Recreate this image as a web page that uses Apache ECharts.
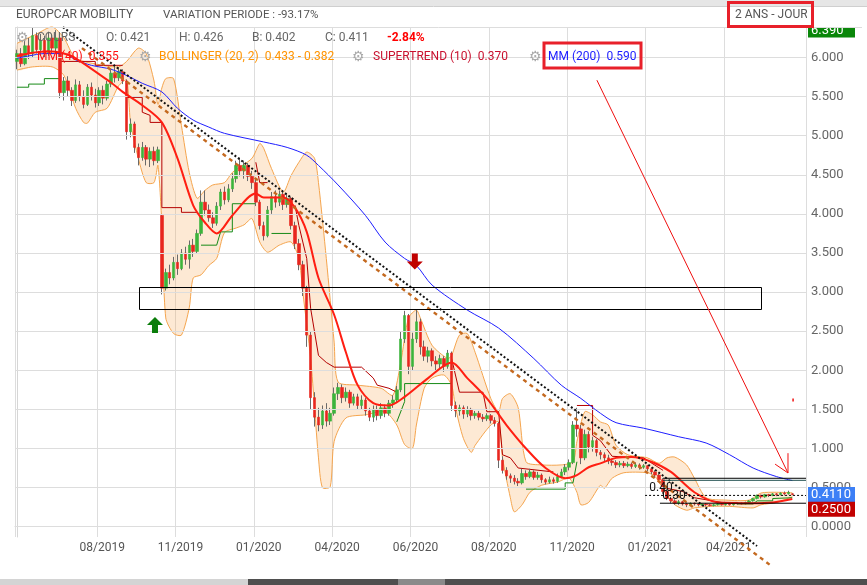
<!DOCTYPE html>
<html><head><meta charset="utf-8">
<script src="https://cdn.jsdelivr.net/npm/echarts@6/dist/echarts.min.js"></script>
<style>html,body{margin:0;padding:0;background:#fff}#c{width:867px;height:585px}</style>
</head><body><div id="c"></div>
<script>
// ---------- data ----------
const slotCount = 202;
const tickSlots = [21,41,61,81,101,121,141,161,181];
const tickLabels = ['08/2019','11/2019','01/2020','04/2020','06/2020','08/2020','11/2020','01/2021','04/2021'];
const priceTicks = [0,0.5,1,1.5,2,2.5,3,3.5,4,4.5,5,5.5,6];
// [open, close, low, high]
const candles = [
[5.95,6.05,5.85,6.10],[6.05,5.92,5.88,6.12],[5.92,6.15,5.90,6.22],[6.15,6.05,5.98,6.25],[6.05,6.28,6.00,6.39],[6.28,6.10,6.05,6.32],[6.10,6.22,6.02,6.30],[6.22,6.05,6.00,6.28],[6.05,6.25,6.02,6.33],[6.25,6.12,6.05,6.30],[6.12,6.25,6.08,6.35],
[6.25,5.55,5.48,6.30],
[5.55,5.70,5.45,5.75],[5.70,5.58,5.50,5.76],[5.58,5.45,5.38,5.62],[5.45,5.65,5.42,5.72],[5.65,5.50,5.44,5.70],[5.50,5.40,5.35,5.58],[5.40,5.62,5.38,5.66],[5.62,5.52,5.45,5.68],[5.52,5.42,5.36,5.60],[5.42,5.58,5.38,5.62],
[5.58,5.48,5.40,5.64],[5.48,5.66,5.45,5.70],[5.66,5.80,5.62,5.86],[5.80,5.74,5.68,5.88],[5.74,5.82,5.70,5.87],[5.82,5.70,5.66,5.85],
[5.70,5.05,4.95,5.72],[5.05,5.15,4.98,5.22],[5.15,4.85,4.78,5.18],[4.85,4.72,4.62,4.90],[4.72,4.85,4.68,4.92],[4.85,4.70,4.62,4.88],[4.70,4.80,4.60,4.85],[4.80,4.68,4.62,4.86],[4.68,4.82,4.65,4.86],[3.98,3.05,2.97,4.00],
[3.05,3.25,3.02,3.30],[3.25,3.18,3.10,3.35],[3.18,3.38,3.15,3.45],[3.38,3.30,3.22,3.48],[3.30,3.50,3.28,3.55],[3.50,3.42,3.35,3.58],[3.42,3.60,3.30,3.66],[3.60,3.52,3.45,3.68],[3.52,3.75,3.50,3.80],[3.75,4.15,3.72,4.30],
[4.15,4.05,3.98,4.30],[4.05,3.95,3.90,4.12],[3.95,3.88,3.82,4.02],[3.88,4.10,3.85,4.15],[4.10,4.28,4.05,4.32],[4.28,4.18,4.12,4.35],[4.18,4.32,4.15,4.38],[4.32,4.45,4.28,4.52],[4.45,4.62,4.40,4.68],[4.62,4.55,4.48,4.72],
[4.55,4.62,4.45,4.68],[4.62,4.48,4.42,4.65],[4.48,4.40,4.32,4.55],[4.40,4.15,4.10,4.45],[4.15,3.85,3.80,4.18],[3.85,3.72,3.66,3.90],[3.72,4.05,3.70,4.10],[4.05,4.22,4.00,4.28],[4.22,4.15,4.08,4.30],[4.15,4.25,4.10,4.30],
[4.25,4.12,4.05,4.28],[4.12,4.20,4.08,4.25],[4.20,3.85,3.80,4.22],[3.85,3.62,3.55,3.90],[3.62,3.35,3.28,3.68],[3.35,3.05,2.95,3.40],[3.05,2.45,2.30,3.08],[2.45,1.65,1.50,2.50],[1.65,1.40,1.28,1.72],[1.40,1.30,1.22,1.52],
[1.30,1.48,1.25,1.55],[1.48,1.35,1.28,1.58],[1.35,1.45,1.30,1.52],[1.45,1.70,1.42,1.78],[1.70,1.78,1.62,1.84],[1.78,1.65,1.58,1.82],[1.65,1.72,1.60,1.78],[1.72,1.58,1.52,1.75],[1.58,1.66,1.55,1.70],[1.66,1.55,1.50,1.70],
[1.55,1.62,1.50,1.68],[1.62,1.48,1.42,1.65],[1.48,1.40,1.35,1.52],[1.40,1.50,1.34,1.55],[1.50,1.42,1.36,1.55],[1.42,1.52,1.38,1.58],[1.52,1.45,1.40,1.56],[1.45,1.58,1.42,1.62],[1.58,1.62,1.52,1.68],[1.62,1.75,1.58,1.80],
[1.75,2.40,1.72,2.50],[2.40,2.70,2.35,2.76],[2.70,2.05,1.95,2.72],[2.05,2.40,2.00,2.48],[2.40,2.62,2.35,2.77],[2.62,2.30,2.20,2.66],[2.30,2.18,2.12,2.38],[2.18,2.25,2.10,2.30],[2.25,2.12,2.05,2.28],[2.12,2.08,2.00,2.18],
[2.08,2.15,2.02,2.20],[2.15,2.05,1.98,2.18],[2.05,2.22,2.02,2.26],[2.22,1.55,1.48,2.24],[1.55,1.48,1.40,1.60],[1.48,1.52,1.42,1.56],[1.52,1.44,1.38,1.55],[1.44,1.50,1.40,1.54],[1.50,1.42,1.36,1.52],[1.42,1.45,1.38,1.48],
[1.45,1.40,1.36,1.48],[1.40,1.38,1.34,1.44],[1.38,1.42,1.35,1.45],[1.42,1.36,1.32,1.44],[1.36,1.32,1.28,1.40],[1.32,0.85,0.75,1.34],[0.85,0.72,0.68,0.90],[0.72,0.65,0.60,0.76],[0.65,0.62,0.56,0.68],[0.62,0.58,0.54,0.66],
[0.58,0.56,0.52,0.62],[0.56,0.68,0.54,0.74],[0.68,0.64,0.60,0.72],[0.64,0.70,0.62,0.74],[0.70,0.63,0.60,0.72],[0.63,0.66,0.60,0.70],[0.66,0.60,0.56,0.68],[0.60,0.57,0.54,0.62],[0.57,0.60,0.55,0.64],[0.60,0.58,0.55,0.63],
[0.58,0.64,0.56,0.68],[0.64,0.70,0.62,0.74],[0.70,0.76,0.66,0.80],[0.76,0.82,0.72,0.86],[0.82,1.30,0.80,1.35],[1.30,1.25,1.15,1.52],[1.25,0.88,0.80,1.30],[0.88,1.18,0.85,1.24],[1.18,1.02,0.95,1.22],[1.02,1.10,0.96,1.15],
[1.10,0.95,0.90,1.12],[0.95,0.92,0.86,0.98],[0.92,0.88,0.84,0.95],[0.88,0.84,0.80,0.92],[0.84,0.82,0.78,0.87],[0.82,0.79,0.75,0.85],[0.79,0.81,0.76,0.84],[0.81,0.78,0.75,0.84],[0.78,0.80,0.76,0.83],[0.80,0.77,0.74,0.82],
[0.77,0.79,0.75,0.82],[0.79,0.76,0.73,0.81],[0.76,0.78,0.74,0.80],[0.78,0.74,0.71,0.79],[0.74,0.70,0.67,0.76],[0.70,0.66,0.62,0.72],[0.66,0.60,0.58,0.68],[0.60,0.45,0.42,0.62],[0.45,0.36,0.34,0.48],[0.36,0.33,0.30,0.38],
[0.33,0.30,0.28,0.35],[0.30,0.32,0.28,0.34],[0.32,0.29,0.27,0.33],[0.29,0.28,0.25,0.31],[0.28,0.30,0.27,0.31],[0.30,0.29,0.27,0.31],[0.29,0.28,0.26,0.30],[0.28,0.29,0.27,0.30],[0.29,0.28,0.26,0.30],[0.28,0.27,0.26,0.29],
[0.27,0.28,0.26,0.29],[0.28,0.29,0.27,0.30],[0.29,0.28,0.27,0.30],[0.28,0.29,0.27,0.30],[0.29,0.28,0.27,0.30],[0.28,0.29,0.27,0.30],[0.29,0.30,0.28,0.31],[0.30,0.29,0.28,0.31],[0.29,0.31,0.28,0.32],[0.31,0.33,0.30,0.34],
[0.33,0.36,0.32,0.37],[0.36,0.40,0.35,0.41],[0.40,0.38,0.36,0.41],[0.38,0.41,0.37,0.42],[0.41,0.40,0.38,0.42],[0.40,0.42,0.39,0.43],[0.42,0.41,0.39,0.43],[0.41,0.43,0.40,0.44],[0.43,0.42,0.40,0.45],[0.42,0.44,0.41,0.46],[0.421,0.411,0.402,0.426]
];
const ma200 = [[0,5.99],[3,6.02],[7,6.05],[12,6.05],[15,5.97],[19,5.9],[24,5.85],[28,5.77],[32,5.67],[37,5.56],[41,5.35],[45,5.2],[49,5.11],[53,5.03],[63,4.92],[69,4.85],[74,4.75],[77,4.62],[82,4.37],[89,3.98],[94,3.64],[99,3.43],[102,3.34],[106,3.09],[115,2.77],[123,2.54],[132,2.15],[139,1.81],[144,1.64],[149,1.45],[153,1.33],[160,1.26],[169,1.15],[176,1.07],[182,0.92],[188,0.75],[194,0.64],[198,0.59]];
const ma40 = [[0,6.02],[4,6.06],[8,6.08],[12,6.05],[15,5.99],[24,5.68],[27,5.56],[32,5.39],[37,5.17],[41,4.71],[45,4.11],[48,3.89],[51,3.75],[55,3.98],[61,4.26],[63,4.21],[68,4.21],[71,4.08],[74,3.77],[77,3.18],[81,2.71],[84,2.23],[87,1.81],[91,1.58],[95,1.55],[99,1.66],[105,1.9],[111,2.1],[115,1.9],[120,1.64],[125,1.3],[130,1.0],[135,0.75],[140,0.62],[143,0.66],[146,0.76],[149,0.81],[153,0.88],[157,0.89],[162,0.83],[167,0.7],[173,0.44],[179,0.31],[188,0.30],[193,0.31],[198,0.355]];
const bollUpper = [[0,6.18],[5,6.30],[9,6.39],[12,6.25],[15,5.99],[22,5.90],[26,5.88],[28,5.95],[31,6.12],[33,6.05],[35,5.70],[36,5.40],[37,5.61],[38,5.73],[40,5.73],[42,5.13],[44,4.53],[46,4.20],[48,4.30],[50,4.37],[53,4.40],[55,4.53],[60,4.71],[62,4.90],[63,4.84],[65,4.58],[68,4.28],[70,4.49],[72,4.66],[74,4.79],[76,4.71],[77,4.40],[79,3.43],[81,2.36],[82,1.85],[87,1.81],[93,1.77],[96,1.68],[98,2.10],[100,2.67],[102,2.77],[103,2.67],[106,2.32],[110,2.15],[111,2.19],[113,2.45],[115,2.47],[117,2.23],[121,1.64],[123,1.47],[124,1.64],[126,1.70],[128,1.52],[130,0.83],[134,0.79],[139,0.79],[142,0.83],[143,1.09],[145,1.47],[147,1.43],[149,1.34],[151,1.30],[153,1.04],[156,0.92],[161,0.88],[164,0.81],[166,0.88],[168,0.89],[171,0.79],[173,0.62],[176,0.37],[181,0.34],[187,0.34],[190,0.43],[194,0.44],[198,0.433]];
const bollLower = [[0,5.84],[4,5.88],[9,5.88],[12,5.77],[15,5.35],[17,5.17],[18,5.16],[20,5.30],[23,5.35],[26,5.64],[28,5.71],[29,5.17],[31,4.71],[33,4.40],[35,4.40],[36,4.62],[37,3.86],[38,2.67],[40,2.47],[42,2.45],[44,2.80],[45,3.18],[47,3.22],[49,3.34],[51,3.43],[53,3.76],[56,3.82],[58,3.86],[60,3.94],[62,3.64],[64,3.51],[67,3.60],[70,3.64],[72,3.43],[73,3.00],[75,2.15],[76,1.52],[77,0.88],[78,0.50],[80,0.51],[81,1.09],[84,1.39],[89,1.43],[94,1.47],[97,1.30],[99,1.05],[101,1.00],[102,1.30],[104,1.77],[106,1.90],[109,1.94],[111,1.81],[112,1.52],[114,1.13],[116,0.95],[117,1.04],[121,1.30],[123,1.34],[124,0.88],[126,0.37],[127,0.19],[129,0.28],[131,0.44],[134,0.53],[138,0.57],[141,0.62],[143,0.44],[144,0.28],[146,0.31],[149,0.53],[150,0.49],[152,0.62],[155,0.69],[161,0.69],[163,0.64],[166,0.40],[168,0.28],[171,0.21],[173,0.24],[177,0.26],[182,0.26],[188,0.24],[190,0.28],[194,0.31],[198,0.382]];
const superGreen = [
 [[0,5.62],[3,5.62],[3,5.66],[7,5.66],[7,5.73],[11,5.73]],
 [[47,3.60],[51,3.60],[52,3.77],[55,3.77],[55,4.13],[61,4.13]],
 [[65,3.75],[70,3.75]],
 [[97,1.34],[99,1.60],[99,1.83],[111,1.83]],
 [[130,0.48],[140,0.48],[140,0.56],[142,0.56],[143,0.83]],
 [[184,0.29],[188,0.29],[189,0.33],[193,0.33],[193,0.36],[198,0.37]]
];
const superRed = [
 [[11,5.95],[20,5.95],[20,5.90],[27,5.90]],
 [[28,5.49],[32,5.49],[32,5.30],[34,5.26],[34,5.17],[37,5.17],[37,4.08],[42,4.08],[42,4.02],[46,4.02]],
 [[61,4.66],[62,4.40],[64,4.40]],
 [[71,4.11],[72,3.85],[74,3.43],[75,2.79],[77,2.19],[79,2.10],[81,2.04],[88,2.04],[91,1.90],[92,1.81],[95,1.77],[97,1.72]],
 [[111,2.15],[113,1.72],[119,1.72],[120,1.47],[123,1.47],[124,0.92],[126,0.88],[128,0.75],[137,0.70]],
 [[143,1.55],[147,1.55],[147,1.17],[149,1.10],[152,0.90],[160,0.88],[165,0.72]],
 [[166,0.49],[170,0.45],[173,0.37],[180,0.31],[184,0.31]]
];
const trendBlack = [[11.76,6.388],[189.0,-0.247]];
const trendBrown = [[16.6,6.12],[192.6,-0.50]];
const zoneBox = [[31.2,3.06],[190.0,2.78]];
const levelTop = [[165,0.619],[201.5,0.619]];
const levelMM = [[165,0.593],[201.5,0.593]];
const level040 = [[160.4,0.40],[201.5,0.40]];
const level030 = [[164.2,0.30],[201.5,0.30]];
const levelLabels = [['0.40',[161.5,0.40]],['0.30',[164.8,0.30]]];
const greenArrowTip = [35.25,2.68];
const redArrowTip = [101.6,3.29];
const pointerLine = [[148.1,5.71],[196.9,0.687]];
const pointerHead = [[193.6,0.80],[196.9,0.687],[196.9,0.94]];
const pointerTick = [[198.2,1.64],[198.2,1.60]];
const badgeValues = [6.39, 0.411, 0.25];
const badgeTexts = ['6.390','0.4110','0.2500'];

// ---------- chart ----------
const chart = echarts.init(document.getElementById('c'), null, {renderer:'canvas'});
const FONT = 'Roboto, "Noto Sans", sans-serif';

function bandRender(params, api) {
  const up = bollUpper.map(p => api.coord(p));
  const lo = bollLower.map(p => api.coord(p));
  const poly = up.concat(lo.slice().reverse());
  return {type:'group', children:[
    {type:'polygon', shape:{points:poly, smooth:0.25}, style:{fill:'rgba(246,165,75,0.24)', stroke:null}},
    {type:'polyline', shape:{points:up, smooth:0.25}, style:{stroke:'#f5a54e', lineWidth:1, fill:null}},
    {type:'polyline', shape:{points:lo, smooth:0.25}, style:{stroke:'#f5a54e', lineWidth:1, fill:null}}
  ]};
}
function annoRender(params, api) {
  const ch = [];
  const seg = (pts, style) => ch.push({type:'polyline', shape:{points:pts.map(p=>api.coord(p))}, style:Object.assign({fill:null}, style)});
  seg(trendBlack, {stroke:'#111', lineWidth:2, lineDash:[2,2.2]});
  seg(trendBrown, {stroke:'#c4691f', lineWidth:2.4, lineDash:[4,4]});
  const a = api.coord(zoneBox[0]), b = api.coord(zoneBox[1]);
  ch.push({type:'rect', shape:{x:Math.round(a[0])+0.5, y:Math.round(a[1])+0.5, width:Math.round(b[0]-a[0]), height:Math.round(b[1]-a[1])}, style:{fill:null, stroke:'#000', lineWidth:1}});
  seg(levelTop, {stroke:'#000', lineWidth:1});
  seg(levelMM, {stroke:'#1d4d4d', lineWidth:1});
  seg(level040, {stroke:'#000', lineWidth:1, lineDash:[2,2]});
  seg(level030, {stroke:'#000', lineWidth:1});
  levelLabels.forEach(([t,p]) => { const c = api.coord(p); ch.push({type:'text', x:c[0], y:c[1]-1, style:{text:t, fill:'#111', font:'12px '+FONT, textAlign:'left', textVerticalAlign:'bottom', align:'left', verticalAlign:'bottom'}}); });
  const g = api.coord(greenArrowTip);
  ch.push({type:'polygon', shape:{points:[[g[0],g[1]],[g[0]+8,g[1]+8],[g[0]+3,g[1]+8],[g[0]+3,g[1]+16],[g[0]-3,g[1]+16],[g[0]-3,g[1]+8],[g[0]-8,g[1]+8]]}, style:{fill:'#0b7d0b'}});
  const r = api.coord(redArrowTip);
  ch.push({type:'polygon', shape:{points:[[r[0],r[1]],[r[0]+8,r[1]-8],[r[0]+3,r[1]-8],[r[0]+3,r[1]-16],[r[0]-3,r[1]-16],[r[0]-3,r[1]-8],[r[0]-8,r[1]-8]]}, style:{fill:'#c00000'}});
  seg(pointerLine, {stroke:'#f01010', lineWidth:1});
  seg(pointerHead, {stroke:'#f01010', lineWidth:1});
  seg(pointerTick, {stroke:'#f01010', lineWidth:1.5});
  return {type:'group', children:ch};
}
const badgeColors = ['#0a870a','#3c7ff6','#c20000'];
const badgeShift = [3, 0, 2];
function badgeRender(params, api) {
  const ch = [];
  badgeValues.forEach((v, i) => {
    const p = api.coord([201.5, v]);
    const y = p[1] + badgeShift[i];
    ch.push({type:'rect', shape:{x:p[0]+2, y:y-7.5, width:47, height:15}, style:{fill:badgeColors[i]}});
    ch.push({type:'text', x:p[0]+5, y:y+0.5, style:{text:badgeTexts[i], fill:'#fff', font:'13px '+FONT, textAlign:'left', textVerticalAlign:'middle', align:'left', verticalAlign:'middle'}});
  });
  return {type:'group', children:ch};
}

const series = [];
series.push({type:'line', xAxisIndex:1, data:[[-0.5,0]], symbol:'none', lineStyle:{opacity:0}, z:0, silent:true,
  markLine:{silent:true, symbol:'none', animation:false, label:{show:false}, lineStyle:{color:'#dddddd', type:'solid', width:1}, data:priceTicks.map(v=>({yAxis:v}))}});
series.push({type:'custom', xAxisIndex:1, data:[[0,0]], renderItem:bandRender, z:1, silent:true});
superGreen.forEach(s => series.push({type:'line', xAxisIndex:1, data:s, symbol:'none', lineStyle:{color:'#178a17', width:1}, z:2, silent:true}));
superRed.forEach(s => series.push({type:'line', xAxisIndex:1, data:s, symbol:'none', lineStyle:{color:'#b40000', width:1}, z:2, silent:true}));
series.push({type:'candlestick', xAxisIndex:0, data:candles.map(c=>[c[0],c[1],c[2],c[3]]), barWidth:1, z:3, silent:true,
  itemStyle:{color:'#6a6a6a', color0:'#6a6a6a', borderColor:'#6a6a6a', borderColor0:'#6a6a6a', borderWidth:1}});
series.push({type:'candlestick', xAxisIndex:0, data:candles.map(c=>[c[0],c[1],Math.min(c[0],c[1]),Math.max(c[0],c[1])]), barWidth:3, z:4, silent:true,
  itemStyle:{color:'#3cb43c', color0:'#e8261e', borderColor:'#3cb43c', borderColor0:'#e8261e', borderWidth:0.6}});
series.push({type:'line', xAxisIndex:1, data:ma200, symbol:'none', smooth:0.3, lineStyle:{color:'#1e1eff', width:1}, z:5, silent:true});
series.push({type:'line', xAxisIndex:1, data:ma40, symbol:'none', smooth:0.3, lineStyle:{color:'#ff1e12', width:2}, z:5, silent:true});
series.push({type:'custom', xAxisIndex:1, data:[[0,0]], renderItem:annoRender, z:6, silent:true});
series.push({type:'custom', xAxisIndex:1, data:[[0,0]], renderItem:badgeRender, z:7, silent:true});

const txt = (x, y, text, color, extra) => Object.assign({type:'text', x, y, z:50, style:Object.assign({text, fill:color, font:'12px '+FONT, textVerticalAlign:'middle', verticalAlign:'middle'}, extra||{})});
const gear = (x, y) => ({type:'text', x, y, z:50, style:{text:'\u2699', fill:'#a8a8a8', font:'14px "DejaVu Sans"', textVerticalAlign:'middle', verticalAlign:'middle'}});

const option = {
  animation:false,
  backgroundColor:'#fff',
  grid:{left:15, right:61, top:27, bottom:48, containLabel:false},
  xAxis:[
    {type:'category', data:Array.from({length:slotCount}, (_, i)=>String(i)), boundaryGap:true,
     axisLine:{show:true, lineStyle:{color:'#d6d6d6'}}, axisTick:{show:false},
     axisLabel:{interval:(i)=>tickSlots.includes(i), formatter:(v)=>{const k=tickSlots.indexOf(Number(v)); return k>=0?tickLabels[k]:'';}, color:'#555', fontSize:12, fontFamily:FONT, margin:5, padding:[0,0,0,6]},
     splitLine:{show:true, interval:(i)=>i===0||tickSlots.includes(i), lineStyle:{color:'#dddddd'}}},
    {type:'value', min:-0.5, max:201.5, show:false, gridIndex:0}
  ],
  yAxis:[{type:'value', position:'right', min:-0.132, max:6.39, scale:false,
    axisLine:{show:true, lineStyle:{color:'#d6d6d6'}}, axisTick:{show:false}, splitLine:{show:false},
    axisLabel:{customValues:priceTicks, formatter:(v)=> v>=1 ? v.toFixed(3) : v.toFixed(4), color:'#666', fontSize:13, fontFamily:FONT, margin:5, padding:[0,0,6,0]}}],
  series,
  graphic:[
    {type:'rect', shape:{x:0,y:0,width:867,height:6}, style:{fill:'#e6e6e6'}, z:60},
    {type:'line', shape:{x1:0,y1:6.5,x2:867,y2:6.5}, style:{stroke:'#cfcfcf', lineWidth:1}, z:60},
    {type:'rect', shape:{x:807,y:7,width:60,height:20}, style:{fill:'#fff'}, z:60},
    {type:'line', shape:{x1:15,y1:27.5,x2:862,y2:27.5}, style:{stroke:'#dddddd', lineWidth:1}, z:61},
    txt(16, 15, 'EUROPCAR MOBILITY', '#555', {font:'12px '+FONT}),
    txt(163, 15, 'VARIATION PERIODE : -93.17%', '#555', {font:'11.5px '+FONT}),
    {type:'rect', shape:{x:728.5,y:2.5,width:84,height:24}, style:{fill:null, stroke:'#e8202a', lineWidth:3}, z:62},
    txt(735, 15, '2 ANS - JOUR', '#555', {font:'12px '+FONT}),
    gear(16, 38),
    txt(37, 38, 'COURS', '#666'),
    txt(106, 38, 'O: 0.421', '#666'),
    txt(179, 38, 'H: 0.426', '#666'),
    txt(252, 38, 'B: 0.402', '#666'),
    txt(325, 38, 'C: 0.411', '#666'),
    txt(387, 38, '-2.84%', '#ff0000', {font:'bold 12px '+FONT}),
    txt(37, 57, 'MM (40)  0.355', '#ff1010'),
    gear(139, 57),
    txt(159, 57, 'BOLLINGER (20, 2)  0.433 - 0.382', '#ff9400'),
    gear(352, 57),
    txt(373, 57, 'SUPERTREND (10)  0.370', '#c8102e'),
    gear(529, 57),
    txt(548, 57, 'MM (200)  0.590', '#1a1aff'),
    {type:'rect', shape:{x:544,y:43,width:97,height:25}, style:{fill:null, stroke:'#e8202a', lineWidth:3}, z:62},
    {type:'rect', shape:{x:0,y:579,width:248,height:6}, style:{fill:'#d4d4d4'}, z:60},
    {type:'rect', shape:{x:248,y:579,width:619,height:6}, style:{fill:'#4f4f4f'}, z:60},
    {type:'rect', shape:{x:398,y:579,width:47,height:6}, style:{fill:'#8a8a8a'}, z:61}
  ]
};
chart.setOption(option);
</script>
</body></html>
